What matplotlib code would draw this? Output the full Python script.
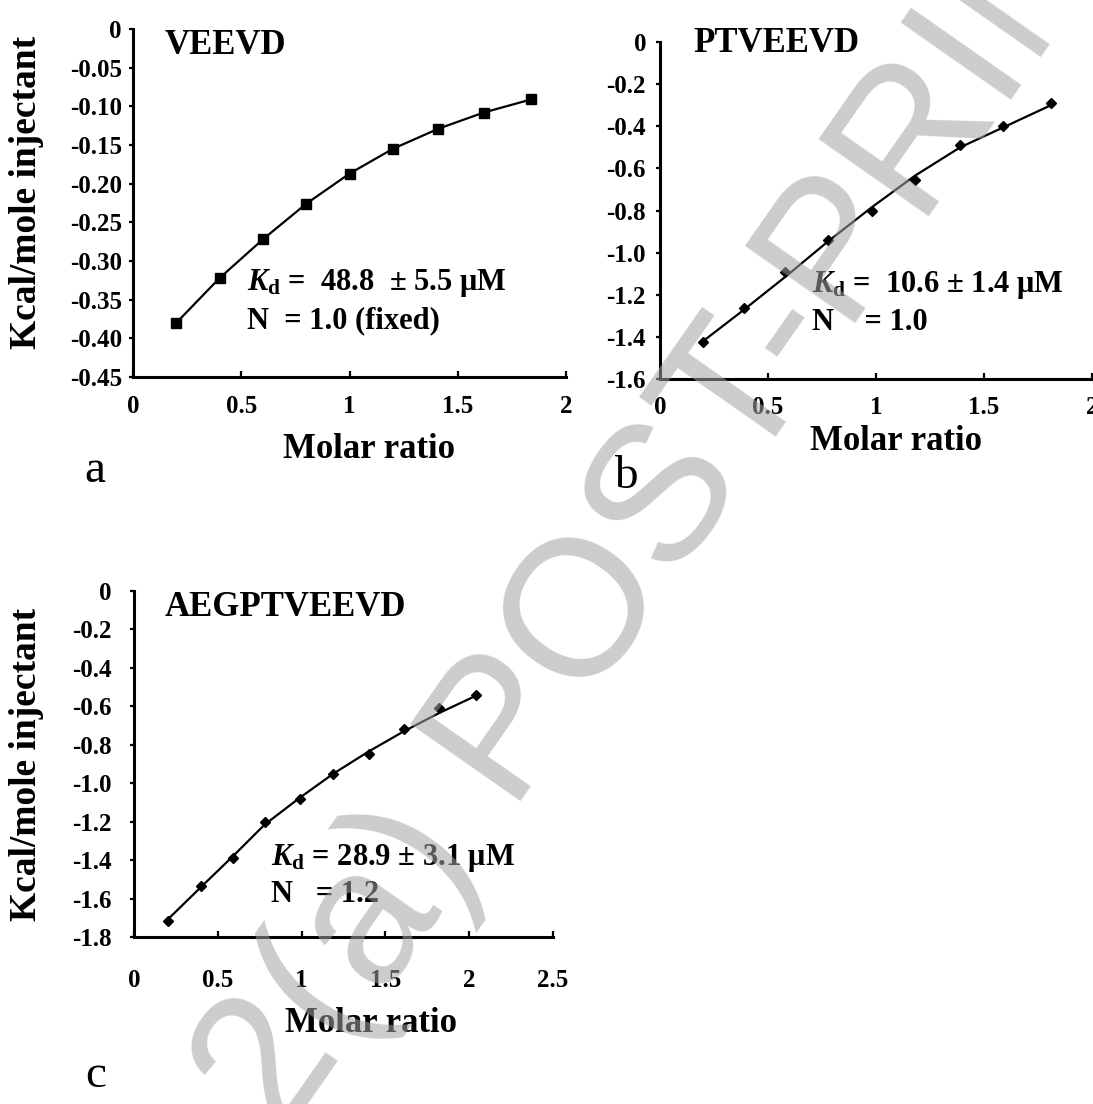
import numpy as np
import matplotlib.pyplot as plt

W, H = 1093, 1104
DPI = 100

# panel a: VEEVD
a_ratio = [0.20, 0.40, 0.60, 0.80, 1.00, 1.20, 1.41, 1.62, 1.84]
a_heat = [-0.380, -0.322, -0.272, -0.226, -0.187, -0.155, -0.129, -0.108, -0.091]

# panel b: PTVEEVD
b_ratio = [0.20, 0.39, 0.58, 0.78, 0.98, 1.18, 1.39, 1.59, 1.81]
b_heat = [-1.426, -1.265, -1.090, -0.940, -0.800, -0.655, -0.490, -0.397, -0.291]
b_fit = [-1.420, -1.270, -1.115, -0.945, -0.785, -0.635, -0.500, -0.405, -0.300]

# panel c: AEGPTVEEVD
c_ratio = [0.20, 0.40, 0.59, 0.78, 0.99, 1.19, 1.40, 1.61, 1.82, 2.04]
c_heat = [-1.715, -1.534, -1.390, -1.200, -1.081, -0.951, -0.848, -0.720, -0.608, -0.541]
c_fit = [-1.710, -1.540, -1.380, -1.215, -1.075, -0.950, -0.835, -0.730, -0.635, -0.545]

a_yticks = [0, -0.05, -0.10, -0.15, -0.20, -0.25, -0.30, -0.35, -0.40, -0.45]
a_ylabels = ["0", "-0.05", "-0.10", "-0.15", "-0.20", "-0.25", "-0.30", "-0.35", "-0.40", "-0.45"]
bc_yticks = [0, -0.2, -0.4, -0.6, -0.8, -1.0, -1.2, -1.4, -1.6, -1.8]
bc_ylabels = ["0", "-0.2", "-0.4", "-0.6", "-0.8", "-1.0", "-1.2", "-1.4", "-1.6", "-1.8"]
x_ticks = [0, 0.5, 1, 1.5, 2, 2.5]
x_labels = ["0", "0.5", "1", "1.5", "2", "2.5"]

plt.rcParams["font.family"] = ["Liberation Serif", "DejaVu Serif"]
plt.rcParams["font.weight"] = "bold"
plt.rcParams["axes.unicode_minus"] = False
plt.rcParams["mathtext.fontset"] = "custom"
plt.rcParams["mathtext.rm"] = "Liberation Serif:weight=bold"
plt.rcParams["mathtext.it"] = "Liberation Serif:style=italic:weight=bold"
plt.rcParams["mathtext.bf"] = "Liberation Serif:weight=bold"


def fx(x):
    return x / W


def fy(y):
    return 1 - y / H


def rect(x0, y0, x1, y1):
    return [x0 / W, 1 - y1 / H, (x1 - x0) / W, (y1 - y0) / H]


def setup(ax, xmax, ymin, yticks, ylabels, nx, xpad, ypad):
    ax.set_xlim(0, xmax)
    ax.set_ylim(ymin, 0)
    for s in ["top", "right"]:
        ax.spines[s].set_visible(False)
    for s in ["left", "bottom"]:
        ax.spines[s].set_linewidth(2.2)
    ax.set_xticks(x_ticks[:nx])
    ax.set_xticklabels(x_labels[:nx])
    ax.set_yticks(yticks)
    ax.set_yticklabels(ylabels)
    ax.tick_params(axis="x", direction="in", length=4, width=1.6, pad=xpad, labelsize=18)
    ax.tick_params(axis="y", direction="out", length=3, width=1.6, pad=ypad, labelsize=18)
    for lab in ax.get_xticklabels() + ax.get_yticklabels():
        lab.set_fontweight("bold")
    ax.patch.set_alpha(0)


fig = plt.figure(figsize=(W / DPI, H / DPI), dpi=DPI)

# a
ax_a = fig.add_axes(rect(133, 29, 566, 377))
setup(ax_a, 2, -0.45, a_yticks, a_ylabels, 5, 13, 5)
ax_a.plot(a_ratio, a_heat, color="black", lw=1.6, marker="s", ms=7, clip_on=False)

# b
ax_b = fig.add_axes(rect(660, 42, 1092, 379))
setup(ax_b, 2, -1.6, bc_yticks[:9], bc_ylabels[:9], 5, 12, 7)
ax_b.plot(b_ratio, b_fit, color="black", lw=1.6, clip_on=False)
ax_b.plot(b_ratio, b_heat, ls="none", color="black", marker="D", ms=5, clip_on=False)

# c
ax_c = fig.add_axes(rect(134, 591, 553, 937))
setup(ax_c, 2.5, -1.8, bc_yticks, bc_ylabels, 6, 23, 13)
ax_c.plot(c_ratio, c_fit, color="black", lw=1.6, clip_on=False)
ax_c.plot(c_ratio, c_heat, ls="none", color="black", marker="D", ms=5, clip_on=False)

# titles
fig.text(fx(165), fy(45), "VEEVD", fontsize=25, va="center")
fig.text(fx(693), fy(44), "PTVEEVD", fontsize=25, va="center")
fig.text(fx(165), fy(608), "AEGPTVEEVD", fontsize=25, va="center")

# fit results
fig.text(fx(247), fy(283), r"$K_{\mathrm{d}}$ =  48.8  ± 5.5 μM", fontsize=22, va="center")
fig.text(fx(247), fy(321), "N  = 1.0 (fixed)", fontsize=22, va="center")
fig.text(fx(812), fy(285), r"$K_{\mathrm{d}}$ =  10.6 ± 1.4 μM", fontsize=22, va="center")
fig.text(fx(812), fy(322), "N    = 1.0", fontsize=22, va="center")
fig.text(fx(271), fy(858), r"$K_{\mathrm{d}}$ = 28.9 ± 3.1 μM", fontsize=22, va="center")
fig.text(fx(271), fy(895), "N   = 1.2", fontsize=22, va="center")

# axis labels
for x, y in [(369, 450), (896, 442), (371, 1024)]:
    fig.text(fx(x), fy(y), "Molar ratio", fontsize=25, ha="center", va="center")
for x, y in [(27, 192), (27, 764)]:
    fig.text(fx(x), fy(y), "Kcal/mole injectant", fontsize=27, rotation=90,
             ha="center", va="center")

# panel letters
for x, y, s in [(95, 482, "a"), (626, 488, "b"), (96, 1087, "c")]:
    fig.text(fx(x), fy(y), s, fontsize=34, fontweight="normal", ha="center", va="baseline")

# watermark
fig.text(fx(690), fy(470), "2(a) POST-PRINT", fontsize=140, family="Liberation Sans",
         fontweight="normal", color="0.64", alpha=0.55, rotation=55,
         rotation_mode="anchor", ha="center", va="center", zorder=10)

fig.savefig("out.png", dpi=DPI)
